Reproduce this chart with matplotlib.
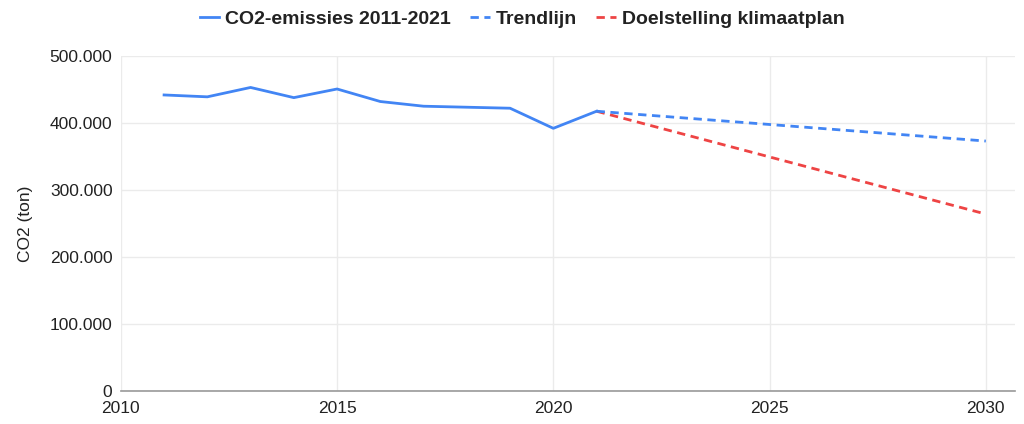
import matplotlib.pyplot as plt
from matplotlib.ticker import FuncFormatter

plt.rcParams['font.family'] = ['Liberation Sans', 'DejaVu Sans']

# data
years = [2011, 2012, 2013, 2014, 2015, 2016, 2017, 2018, 2019, 2020, 2021]
emissions = [441800, 439000, 453000, 437800, 450700, 432000, 425000, 423500, 422000, 392000, 417500]
trend_years = [2021, 2030]
trend_values = [417500, 373000]
goal_years = [2021, 2030]
goal_values = [417500, 264000]

blue = '#4285f4'
red = '#ee4444'

fig = plt.figure(figsize=(10.24, 4.24), dpi=100)
ax = fig.add_axes([0.118, 0.078, 0.873, 0.79])

ax.plot(years, emissions, color=blue, lw=2, label='CO2-emissies 2011-2021', zorder=3)
ax.plot(trend_years, trend_values, color=blue, lw=2, ls=(0, (3, 2)), label='Trendlijn', zorder=3)
ax.plot(goal_years, goal_values, color=red, lw=2, ls=(0, (3, 2)), label='Doelstelling klimaatplan', zorder=2)

ax.set_xlim(2010, 2030.67)
ax.set_ylim(0, 500000)
ax.set_xticks([2010, 2015, 2020, 2025, 2030])
ax.set_yticks(range(0, 500001, 100000))
ax.yaxis.set_major_formatter(FuncFormatter(lambda v, p: f'{int(v):,}'.replace(',', '.')))

ax.grid(True, color='#ebebeb', lw=1)
ax.set_axisbelow(True)
for s in ['top', 'right', 'left']:
    ax.spines[s].set_visible(False)
ax.spines['bottom'].set_color('#999999')
ax.spines['bottom'].set_linewidth(1.2)
ax.tick_params(length=0, labelsize=12.5, colors='#222222')
ax.tick_params(axis='y', pad=6)
ax.tick_params(axis='x', pad=7)
ax.set_ylabel('CO2 (ton)', fontsize=12.5, color='#222222', labelpad=12)

leg = fig.legend(*ax.get_legend_handles_labels(), loc='center', bbox_to_anchor=(0.51, 1 - 19 / 424),
                 ncol=3, frameon=False, prop={'weight': 'bold', 'size': 14},
                 handlelength=1.0, handletextpad=0.3, columnspacing=1.0)
for t in leg.get_texts():
    t.set_color('#222222')

fig.savefig('out.png', dpi=100)
